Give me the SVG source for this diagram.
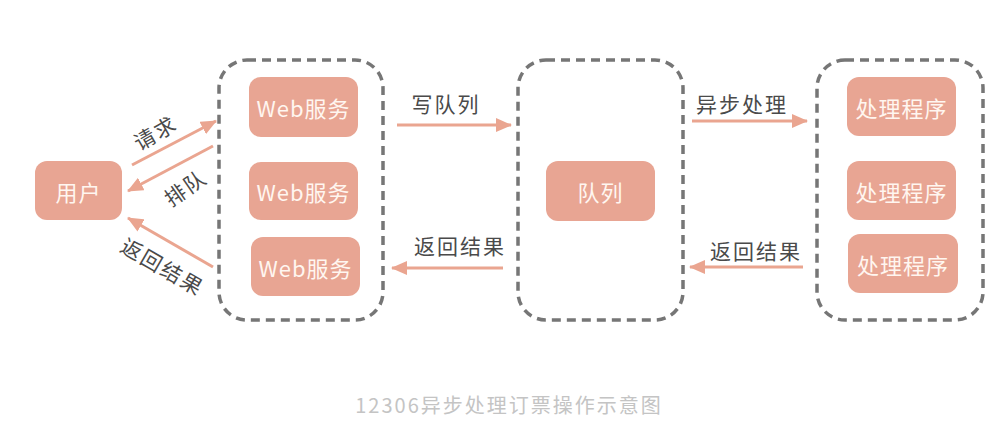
<svg xmlns="http://www.w3.org/2000/svg" width="1002" height="433" viewBox="0 0 1002 433">
<style>
.grp{fill:none;stroke:#767676;stroke-width:3.5;stroke-dasharray:9 6;stroke-linecap:butt}
.box{fill:#E8A593}
.bt{fill:#FFF6F0;font-family:"Noto Sans CJK SC","Noto Sans",sans-serif;font-size:22px;text-anchor:middle;dominant-baseline:central;letter-spacing:1px}
.lb{fill:#4a4a4a;font-family:"Noto Sans CJK SC","Noto Sans",sans-serif;font-size:21px;text-anchor:middle;dominant-baseline:central;letter-spacing:2px}
.ar{fill:none;stroke:#EAA590;stroke-width:3;marker-end:url(#ah)}
.cap{fill:#c4c4c4;font-family:"Noto Sans CJK SC","Noto Sans",sans-serif;font-size:20px;text-anchor:middle;dominant-baseline:central;letter-spacing:2px}
</style>
<defs>
<marker id="ah" viewBox="0 0 16 14" refX="15" refY="7" markerWidth="16" markerHeight="14" markerUnits="userSpaceOnUse" orient="auto">
<path d="M0,0 L16,7 L0,14 Z" fill="#EAA590"/>
</marker>
</defs>
<rect width="1002" height="433" fill="#ffffff"/>
<g id="group-web"><rect class="grp" x="219" y="60" width="164" height="260" rx="28"/></g>
<g id="group-queue"><rect class="grp" x="518" y="60" width="165" height="260" rx="28"/></g>
<g id="group-proc"><rect class="grp" x="817" y="60" width="166" height="260" rx="28"/></g>
<g id="user"><rect class="box" x="35" y="161" width="87" height="59" rx="12"/><text class="bt" x="78.5" y="190.5">用户</text></g>
<g id="web1"><rect class="box" x="249" y="77" width="109" height="60" rx="12"/><text class="bt" x="303.5" y="107">Web服务</text></g>
<g id="web2"><rect class="box" x="249" y="162" width="109" height="58" rx="12"/><text class="bt" x="303.5" y="191">Web服务</text></g>
<g id="web3"><rect class="box" x="251" y="237" width="109" height="59" rx="12"/><text class="bt" x="305.5" y="266.5">Web服务</text></g>
<g id="queue"><rect class="box" x="546" y="161" width="109" height="60" rx="12"/><text class="bt" x="600.5" y="191">队列</text></g>
<g id="proc1"><rect class="box" x="847" y="77" width="109" height="59" rx="12"/><text class="bt" x="901.5" y="106.5">处理程序</text></g>
<g id="proc2"><rect class="box" x="847" y="161" width="109" height="59" rx="12"/><text class="bt" x="901.5" y="190.5">处理程序</text></g>
<g id="proc3"><rect class="box" x="848" y="234" width="110" height="59" rx="12"/><text class="bt" x="903" y="263.5">处理程序</text></g>
<g id="connectors">
<line class="ar" x1="132" y1="165" x2="216" y2="121"/>
<line class="ar" x1="213" y1="146" x2="128" y2="191"/>
<line class="ar" x1="213" y1="267" x2="128" y2="218"/>
<line class="ar" x1="397" y1="125" x2="511" y2="125"/>
<line class="ar" x1="503" y1="268" x2="392" y2="268"/>
<line class="ar" x1="692" y1="121" x2="807" y2="121"/>
<line class="ar" x1="803" y1="267" x2="690" y2="267"/>
<text class="lb" transform="translate(155,132) rotate(-30)">请求</text>
<text class="lb" transform="translate(185,187) rotate(-35)">排队</text>
<text class="lb" transform="translate(163,266) rotate(30)">返回结果</text>
<text class="lb" x="446" y="103">写队列</text>
<text class="lb" x="460" y="245">返回结果</text>
<text class="lb" x="742" y="103">异步处理</text>
<text class="lb" x="756" y="250">返回结果</text>
</g>
<text class="cap" x="509" y="404">12306异步处理订票操作示意图</text>
</svg>
